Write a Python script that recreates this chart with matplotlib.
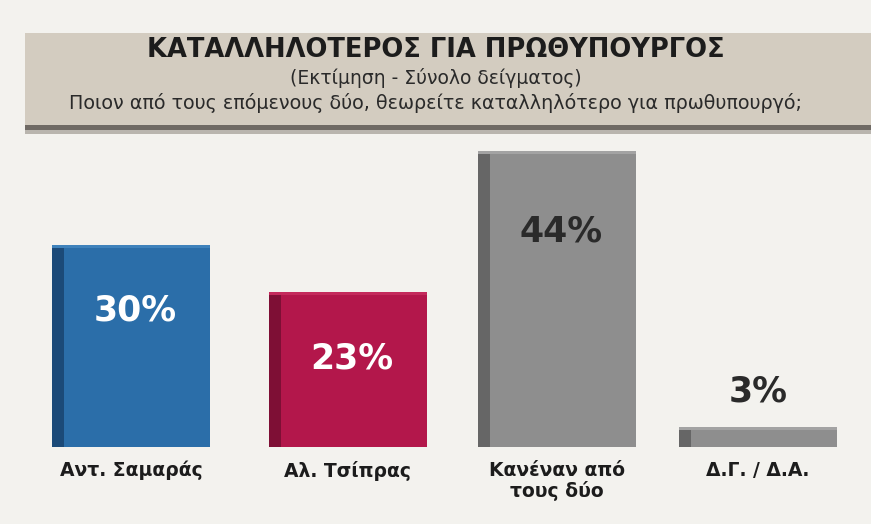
import matplotlib.pyplot as plt
from matplotlib.patches import Rectangle

plt.rcParams['font.family'] = ['DejaVu Sans']

categories = ['Αντ. Σαμαράς', 'Αλ. Τσίπρας', 'Κανέναν από\nτους δύο', 'Δ.Γ. / Δ.Α.']
values = [30, 23, 44, 3]
front_colors = ['#2b6ea9', '#b3174b', '#8e8e8e', '#8e8e8e']
side_colors = ['#1b4a78', '#7e0f35', '#666666', '#666666']
top_colors = ['#3f82bb', '#c42a5c', '#a3a3a3', '#a3a3a3']
label_inside = [True, True, True, False]
label_colors = ['white', 'white', '#2a2a2a', '#2a2a2a']

title = 'ΚΑΤΑΛΛΗΛΟΤΕΡΟΣ ΓΙΑ ΠΡΩΘΥΠΟΥΡΓΟΣ'
subtitle = '(Εκτίμηση - Σύνολο δείγματος)'
question = 'Ποιον από τους επόμενους δύο, θεωρείτε καταλληλότερο για πρωθυπουργό;'

# bar centre positions (layout)
xpos = [0, 1.038, 2.038, 3.0]

W, H = 871, 524
fig = plt.figure(figsize=(W / 100, H / 100), dpi=100, facecolor='#f3f2ee')

# header band with shadow
fig.patches.append(Rectangle((25 / W, 399 / H), 1, 92 / H, transform=fig.transFigure,
                             facecolor='#d3ccc0', edgecolor='none', zorder=0))
fig.patches.append(Rectangle((25 / W, 394 / H), 1, 5 / H, transform=fig.transFigure,
                             facecolor='#6f6a64', edgecolor='none', zorder=0))
fig.patches.append(Rectangle((25 / W, 390 / H), 1, 4 / H, transform=fig.transFigure,
                             facecolor='#b9b5ae', edgecolor='none', zorder=0))
fig.text(0.5, 1 - 50 / H, title, ha='center', va='center', fontsize=18.5, fontweight='bold',
         color='#1c1c1c')
fig.text(0.5, 1 - 78 / H, subtitle, ha='center', va='center', fontsize=13.5, color='#2a2a2a')
fig.text(0.5, 1 - 103 / H, question, ha='center', va='center', fontsize=13.8, color='#2a2a2a')

ax = fig.add_axes([26.5 / W, 77 / H, 836 / W, 330 / H])
ax.set_facecolor('none')
bw = 0.755
side_w = 0.055
ax.bar(xpos, values, width=bw, color=front_colors, zorder=2)
ax.bar([p - bw / 2 for p in xpos], values, width=side_w, align='edge', color=side_colors, zorder=3)
ax.bar(xpos, [0.5] * len(values), bottom=[v - 0.5 for v in values], width=bw,
       color=top_colors, zorder=3)

for i, v in enumerate(values):
    if label_inside[i]:
        y = v - 9.8 if v < 40 else v - 12
        ax.text(xpos[i] + 0.02, y, f'{v}%', ha='center', va='center', fontsize=25,
                fontweight='bold', color=label_colors[i], zorder=4)
    else:
        ax.text(xpos[i], v + 5.2, f'{v}%', ha='center', va='center', fontsize=25,
                fontweight='bold', color=label_colors[i], zorder=4)

ax.set_xlim(-0.5, 3.5)
ax.set_ylim(0, 49)
ax.set_xticks(xpos)
ax.set_xticklabels(categories, fontsize=13.5, fontweight='bold', color='#1c1c1c',
                   linespacing=1.1)
ax.tick_params(axis='x', length=0, pad=10)
ax.set_yticks([])
for s in ax.spines.values():
    s.set_visible(False)

fig.savefig('out.png', dpi=100, facecolor=fig.get_facecolor())
